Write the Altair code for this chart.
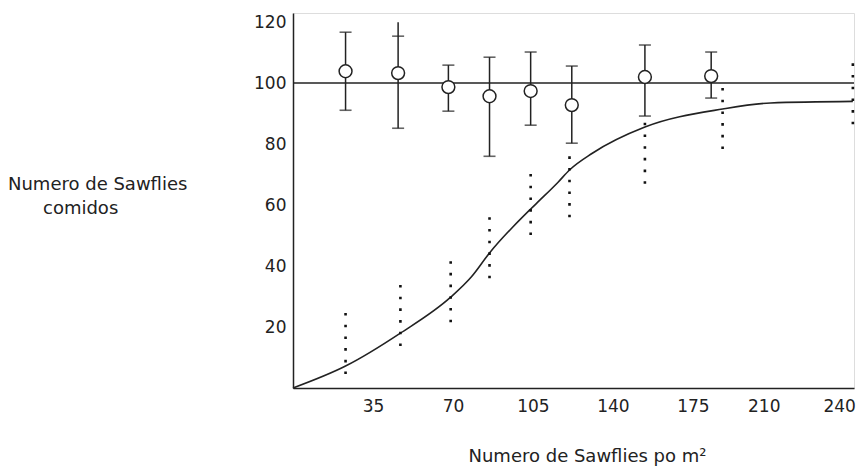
import altair as alt
import pandas as pd

# circles with error bars (mean, caps)
circ_x = [23, 46, 68, 86, 104, 122, 154, 183]
circ_mean = [103.9, 103.3, 98.7, 95.7, 97.4, 92.8, 102.0, 102.3]
cap_hi = [116.7, 115.4, 105.9, 108.5, 110.2, 105.6, 112.5, 110.2]
cap_lo = [91.1, 85.2, 90.8, 76.0, 86.2, 80.3, 89.2, 95.1]
whisk_hi = [116.7, 120.0, 105.9, 108.5, 110.2, 105.6, 112.5, 110.2]

# dotted ranges
dot_x = [23, 47, 69, 86, 104, 121, 154, 188, 245]
dot_hi = [24.6, 33.8, 41.6, 56.0, 70.2, 76.0, 87.0, 98.4, 106.5]
dot_lo = [4.6, 13.8, 21.6, 36.0, 50.2, 56.0, 67.0, 78.4, 86.5]

# fitted curve
curve_x = [0, 23, 47, 69, 78, 86, 104, 108, 116, 121, 131, 154, 188, 209, 245]
curve_y = [0, 7.2, 18, 29.8, 36.4, 44.3, 58.7, 61.6, 67.5, 71.5, 77, 85.6, 91.5, 93.5, 94]

ref_value = [100]

x_tick_pos = [35, 70, 105, 140, 175, 206, 239]
x_tick_text = ["35", "70", "105", "140", "175", "210", "240"]
y_ticks = [20, 40, 60, 80, 100, 120]

y_title_lines = ["Numero de Sawflies", "comidos"]
x_title = "Numero de Sawflies po m\u00b2"

circ = pd.DataFrame({"x": circ_x, "m": circ_mean, "hi": cap_hi, "lo": cap_lo, "wh": whisk_hi})
dots = pd.DataFrame({"x": dot_x, "hi": dot_hi, "lo": dot_lo})
curve = pd.DataFrame({"x": curve_x, "y": curve_y})
ref = pd.DataFrame({"y": ref_value})

INK = "#222222"
FONT = "DejaVu Sans"

label_expr = "datum.label"
for p, t in zip(x_tick_pos, x_tick_text):
    label_expr = f"datum.value == {p} ? '{t}' : ({label_expr})"

xs = alt.Scale(domain=[0, 245.5], nice=False, zero=False)
ys = alt.Scale(domain=[0, 123], nice=False, zero=False)

x_axis = alt.Axis(values=x_tick_pos, labelExpr=label_expr, ticks=False, tickSize=0,
                  grid=False, domainColor=INK, domainWidth=1.5, labelFont=FONT,
                  labelFontSize=17, labelColor=INK, labelPadding=10,
                  title=x_title, titleFont=FONT, titleFontSize=18,
                  titleFontWeight="normal", titleColor=INK, titleX=294, titleY=68,
                  titleAnchor="middle", titleAlign="center", titleBaseline="middle")
y_axis = alt.Axis(values=y_ticks, ticks=False, tickSize=0, grid=False, domainColor=INK,
                  domainWidth=1.5, labelFont=FONT, labelFontSize=17, labelColor=INK,
                  labelPadding=7, title=None)

base_x = alt.X("x:Q", scale=xs, axis=x_axis)

curve_layer = alt.Chart(curve).mark_line(color=INK, strokeWidth=1.6, interpolate="monotone").encode(
    x=base_x, y=alt.Y("y:Q", scale=ys, axis=y_axis))

ref_layer = alt.Chart(ref).mark_rule(color=INK, strokeWidth=1.5).encode(
    y=alt.Y("y:Q", scale=ys))

dot_layer = alt.Chart(dots).mark_rule(color="#111111", strokeWidth=2.6,
                                      strokeDash=[2.6, 9.1], strokeCap="butt").encode(
    x=alt.X("x:Q", scale=xs), y=alt.Y("hi:Q", scale=ys), y2="lo:Q")

whisk_layer = alt.Chart(circ).mark_rule(color=INK, strokeWidth=1.5).encode(
    x=alt.X("x:Q", scale=xs), y=alt.Y("wh:Q", scale=ys), y2="lo:Q")

cap_hi_layer = alt.Chart(circ).mark_tick(color=INK, orient="horizontal", size=12, thickness=1.6).encode(
    x=alt.X("x:Q", scale=xs), y=alt.Y("hi:Q", scale=ys))
cap_lo_layer = alt.Chart(circ).mark_tick(color=INK, orient="horizontal", size=12, thickness=1.6).encode(
    x=alt.X("x:Q", scale=xs), y=alt.Y("lo:Q", scale=ys))

circ_layer = alt.Chart(circ).mark_point(shape="circle", filled=False, fill="white", fillOpacity=1,
                                        stroke=INK, strokeWidth=1.5, size=165, opacity=1).encode(
    x=alt.X("x:Q", scale=xs), y=alt.Y("m:Q", scale=ys))

title1 = alt.Chart(pd.DataFrame({"t": [y_title_lines[0]]})).mark_text(
    font=FONT, fontSize=18, color=INK, align="left", baseline="middle").encode(
    text="t:N", x=alt.value(-285), y=alt.value(172))
title2 = alt.Chart(pd.DataFrame({"t": [y_title_lines[1]]})).mark_text(
    font=FONT, fontSize=18, color=INK, align="left", baseline="middle").encode(
    text="t:N", x=alt.value(-250), y=alt.value(196))

chart = alt.layer(curve_layer, ref_layer, dot_layer, whisk_layer, cap_hi_layer, cap_lo_layer,
                  circ_layer, title1, title2).properties(
    width=561, height=375,
    autosize=alt.AutoSizeParams(type="none"),
    padding={"left": 285, "top": 5, "right": 2, "bottom": 80},
).configure_view(stroke=None).configure(background="white")

chart.save("out.html", embed_options={"renderer": "svg", "actions": False})
